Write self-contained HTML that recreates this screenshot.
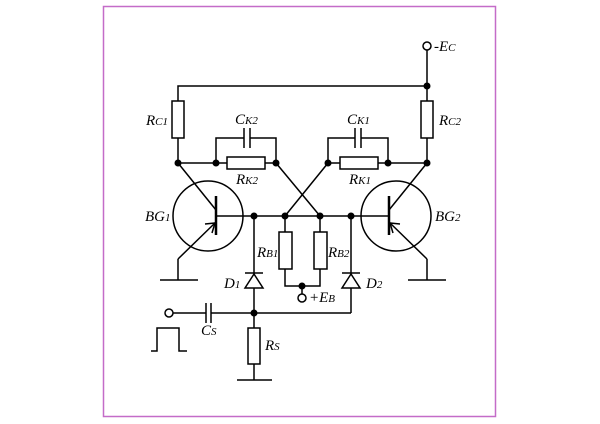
<!DOCTYPE html>
<html><head><style>
html,body{margin:0;padding:0;background:#fff;}
svg{display:block;}
text{font-family:"Liberation Serif",serif;font-style:italic;fill:#000;}
</style></head><body>
<svg width="600" height="424" viewBox="0 0 600 424" xmlns="http://www.w3.org/2000/svg">
<rect x="103.5" y="6.5" width="392" height="410" fill="none" stroke="#c46cc8" stroke-width="1.5"/>
<g stroke="#000" stroke-width="1.5" fill="none">
<!-- top supply -->
<circle cx="427" cy="46" r="4" fill="#fff"/>
<line x1="427" y1="50" x2="427" y2="101"/>
<polyline points="178,101 178,86 427,86"/>
<rect x="172" y="101" width="12" height="37" fill="#fff"/>
<rect x="421" y="101" width="12" height="37" fill="#fff"/>
<line x1="178" y1="138" x2="178" y2="163"/>
<line x1="427" y1="138" x2="427" y2="163"/>
<!-- node line left -->
<line x1="178" y1="163" x2="227" y2="163"/>
<rect x="227" y="157" width="38" height="12" fill="#fff"/>
<line x1="265" y1="163" x2="276" y2="163"/>
<polyline points="216,163 216,138 244,138"/>
<polyline points="276,163 276,138 250,138"/>
<line x1="244" y1="128" x2="244" y2="148"/>
<line x1="250" y1="128" x2="250" y2="148"/>
<!-- right -->
<line x1="328" y1="163" x2="340" y2="163"/>
<rect x="340" y="157" width="38" height="12" fill="#fff"/>
<line x1="378" y1="163" x2="427" y2="163"/>
<polyline points="328,163 328,138 355,138"/>
<polyline points="388,163 388,138 361,138"/>
<line x1="355" y1="128" x2="355" y2="148"/>
<line x1="361" y1="128" x2="361" y2="148"/>
<!-- cross -->
<line x1="276" y1="163" x2="320" y2="216"/>
<line x1="328" y1="163" x2="285" y2="216"/>
<!-- BG1 -->
<circle cx="208" cy="216" r="35"/>
<line x1="216" y1="196" x2="216" y2="235" stroke-width="2.5"/>
<line x1="178" y1="163" x2="216" y2="210"/>
<line x1="216" y1="222" x2="178" y2="259"/>
<polyline points="178,259 178,280"/>
<line x1="160" y1="280" x2="198" y2="280"/>
<polyline points="205,224 215,223 212,233" />
<!-- BG2 -->
<circle cx="396" cy="216" r="35"/>
<line x1="389" y1="196" x2="389" y2="235" stroke-width="2.5"/>
<line x1="427" y1="163" x2="389" y2="210"/>
<line x1="389" y1="222" x2="427" y2="259"/>
<polyline points="427,259 427,280"/>
<line x1="408" y1="280" x2="446" y2="280"/>
<polyline points="400,224 390,223 393,233"/>
<!-- base line -->
<line x1="216" y1="216" x2="389" y2="216"/>
<!-- RB -->
<line x1="285" y1="216" x2="285" y2="232"/>
<rect x="279" y="232" width="13" height="37" fill="#fff"/>
<line x1="320" y1="216" x2="320" y2="232"/>
<rect x="314" y="232" width="13" height="37" fill="#fff"/>
<polyline points="285,269 285,286 320,286 320,269"/>
<line x1="302" y1="286" x2="302" y2="294"/>
<circle cx="302" cy="298" r="4" fill="#fff"/>
<!-- diodes -->
<line x1="254" y1="216" x2="254" y2="313"/>
<line x1="245" y1="273" x2="263" y2="273"/>
<polygon points="254,274 245,288 263,288" fill="#fff"/>
<line x1="351" y1="216" x2="351" y2="313"/>
<line x1="342" y1="273" x2="360" y2="273"/>
<polygon points="351,274 342,288 360,288" fill="#fff"/>
<!-- input -->
<line x1="173" y1="313" x2="206" y2="313"/>
<line x1="211" y1="313" x2="351" y2="313"/>
<circle cx="169" cy="313" r="4" fill="#fff"/>
<line x1="206" y1="303" x2="206" y2="323"/>
<line x1="211" y1="303" x2="211" y2="323"/>
<line x1="254" y1="313" x2="254" y2="328"/>
<rect x="248" y="328" width="12" height="36" fill="#fff"/>
<line x1="254" y1="364" x2="254" y2="380"/>
<line x1="237" y1="380" x2="272" y2="380"/>
<polyline points="151,351 157,351 157,328 179,328 179,351 187,351"/>
</g>
<g fill="#000">
<circle cx="427" cy="86" r="3.5"/>
<circle cx="178" cy="163" r="3.5"/><circle cx="216" cy="163" r="3.5"/><circle cx="276" cy="163" r="3.5"/>
<circle cx="328" cy="163" r="3.5"/><circle cx="388" cy="163" r="3.5"/><circle cx="427" cy="163" r="3.5"/>
<circle cx="254" cy="216" r="3.5"/><circle cx="285" cy="216" r="3.5"/><circle cx="320" cy="216" r="3.5"/><circle cx="351" cy="216" r="3.5"/>
<circle cx="302" cy="286" r="3.5"/><circle cx="254" cy="313" r="3.5"/>
</g>
<g font-size="15">
<text x="434" y="51">-E<tspan font-size="11">C</tspan></text>
<text x="146" y="125">R<tspan font-size="11">C1</tspan></text>
<text x="439" y="125">R<tspan font-size="11">C2</tspan></text>
<text x="235" y="124">C<tspan font-size="11">K2</tspan></text>
<text x="347" y="124">C<tspan font-size="11">K1</tspan></text>
<text x="236" y="184">R<tspan font-size="11">K2</tspan></text>
<text x="349" y="184">R<tspan font-size="11">K1</tspan></text>
<text x="145" y="221">BG<tspan font-size="11">1</tspan></text>
<text x="435" y="221">BG<tspan font-size="11">2</tspan></text>
<text x="257" y="257">R<tspan font-size="11">B1</tspan></text>
<text x="328" y="257">R<tspan font-size="11">B2</tspan></text>
<text x="224" y="288">D<tspan font-size="11">1</tspan></text>
<text x="366" y="288">D<tspan font-size="11">2</tspan></text>
<text x="309" y="302">+E<tspan font-size="11">B</tspan></text>
<text x="201" y="335">C<tspan font-size="11">S</tspan></text>
<text x="265" y="350">R<tspan font-size="11">S</tspan></text>
</g>
</svg>
</body></html>
